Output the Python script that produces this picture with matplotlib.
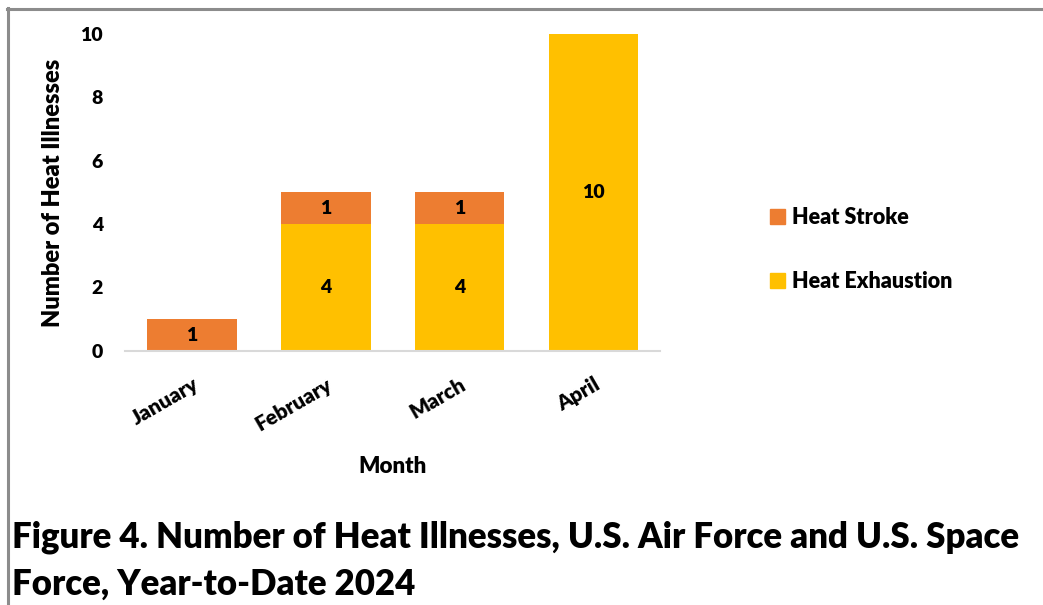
import matplotlib
matplotlib.use("Agg")
import matplotlib.pyplot as plt
from matplotlib.lines import Line2D
from matplotlib.patches import Patch

months = ["January", "February", "March", "April"]
heat_exhaustion = [0, 4, 4, 10]
heat_stroke = [1, 1, 1, 0]

ORANGE = "#ED7D31"
YELLOW = "#FFC000"
FONT = "Lato"

plt.rcParams["font.family"] = [FONT, "DejaVu Sans"]
plt.rcParams["font.weight"] = "bold"

fig = plt.figure(figsize=(10.43, 6.05), dpi=100)
ax = fig.add_axes([0.12, 0.42, 0.513, 0.524])

x = list(range(len(months)))
width = 0.67
ax.bar(x, heat_exhaustion, width, color=YELLOW, label="Heat Exhaustion", zorder=2)
ax.bar(x, heat_stroke, width, bottom=heat_exhaustion, color=ORANGE,
       label="Heat Stroke", zorder=2)

# data labels in the middle of each segment
for i in x:
    if heat_exhaustion[i] > 0:
        ax.text(i, heat_exhaustion[i] / 2, str(heat_exhaustion[i]),
                ha="center", va="center", fontsize=14, fontweight="heavy")
    if heat_stroke[i] > 0:
        ax.text(i, heat_exhaustion[i] + heat_stroke[i] / 2, str(heat_stroke[i]),
                ha="center", va="center", fontsize=14, fontweight="heavy")

ax.set_xlim(-0.5, 3.5)
ax.set_ylim(0, 10)
ax.set_yticks([0, 2, 4, 6, 8, 10])
ax.set_xticks(x)
ax.set_xticklabels(months, rotation=30, ha="right", rotation_mode="anchor")
ax.tick_params(axis="y", length=0, labelsize=14, pad=16)
ax.tick_params(axis="x", length=0, labelsize=15, pad=17)
for lab in ax.get_xticklabels() + ax.get_yticklabels():
    lab.set_fontweight("heavy")

for s in ["top", "right", "left"]:
    ax.spines[s].set_visible(False)
ax.spines["bottom"].set_color("#D9D9D9")
ax.spines["bottom"].set_linewidth(1.5)

ax.set_ylabel("Number of Heat Illnesses", fontsize=17, fontweight="heavy", labelpad=12)
ax.set_xlabel("Month", fontsize=16, fontweight="heavy", labelpad=16)

handles = [Patch(color=ORANGE), Patch(color=YELLOW)]
fig.legend(handles, ["Heat Stroke", "Heat Exhaustion"], loc="center left",
           bbox_to_anchor=(0.72, 0.588), frameon=False,
           handlelength=0.7, handleheight=0.7, handletextpad=0.3,
           labelspacing=2.0, prop={"weight": "heavy", "size": 15.5})

# chart frame (top and left edge)
fig.add_artist(Line2D([7 / 1043, 1], [1 - 8.5 / 605, 1 - 8.5 / 605],
                      transform=fig.transFigure, color="#8C8C8C", lw=2.2))
fig.add_artist(Line2D([8 / 1043, 8 / 1043], [0, 1 - 7.5 / 605],
                      transform=fig.transFigure, color="#8C8C8C", lw=2.2))

fig.text(12 / 1043, 1 - 548 / 605,
         "Figure 4. Number of Heat Illnesses, U.S. Air Force and U.S. Space",
         fontsize=25, fontweight="heavy", va="baseline", ha="left")
fig.text(12 / 1043, 1 - 595 / 605, "Force, Year-to-Date 2024",
         fontsize=25, fontweight="heavy", va="baseline", ha="left")

fig.savefig("out.png", dpi=100)
